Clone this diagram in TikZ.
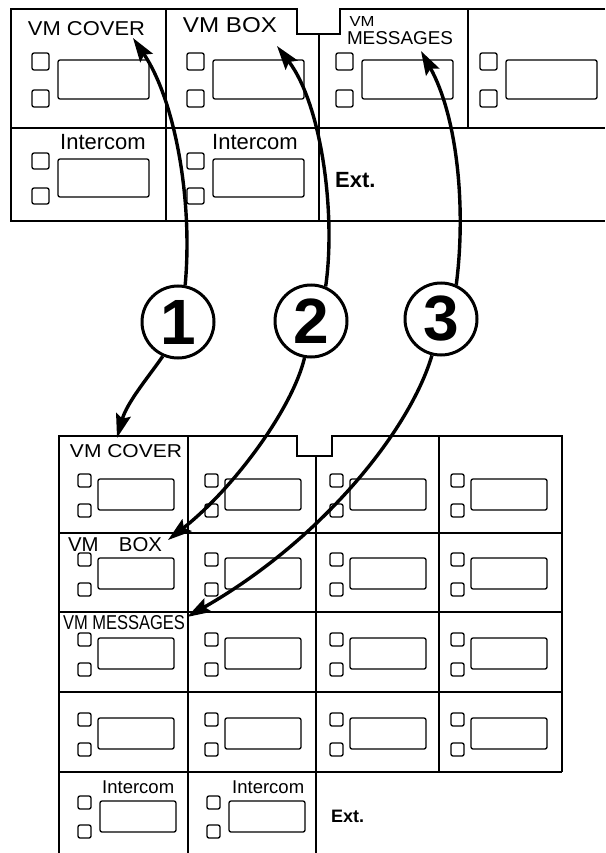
\documentclass[tikz,border=0pt]{standalone}
\usepackage{fontspec}
\setmainfont{Liberation Sans}
\usetikzlibrary{arrows.meta}
\newcommand{\hwl}[3]{\resizebox{#1pt}{#2pt}{#3}}
\begin{document}
\begin{tikzpicture}[x=1pt,y=-1pt,
  panel/.style={line width=1.2pt, line join=miter},
  keybox/.style={draw, line width=1.3pt, rounded corners=2pt},
  numcircle/.style={circle, draw, line width=3pt, minimum size=72pt, inner sep=0pt,
    font=\fontsize{64}{64}\selectfont\bfseries},
  hand/.style={inner sep=0pt},
  labeltext/.style={anchor=base west, inner sep=0pt},
  link/.style={line width=3.4pt, -{Stealth[length=24pt,width=15pt,inset=4pt]}}
]
\useasboundingbox (0,0) rectangle (605,853);

% ---------- top panel ----------
\draw[panel] (605,9) -- (340,9) -- (340,34) -- (297,34) -- (297,9) -- (11,9) -- (11,221) -- (605,221);
\draw[panel] (11,128) -- (605,128);
\draw[panel] (166,9) -- (166,221);
\draw[panel] (319,34) -- (319,221);
\draw[panel] (468,9) -- (468,128);
% row 1 keys
\foreach \xo in {32,187,336,480}{
  \draw[keybox] (\xo,53) rectangle ++(17,17);
  \draw[keybox] (\xo,90) rectangle ++(17,17);
  \draw[keybox] (\xo+26,60) rectangle (\xo+117,99);
}
% row 2 keys
\foreach \xo in {32,187}{
  \draw[keybox] (\xo,153) rectangle ++(17,16);
  \draw[keybox] (\xo,188) rectangle ++(17,16);
  \draw[keybox] (\xo+26,159) rectangle (\xo+117,197);
}
\node[labeltext, font=\fontsize{22}{22}\selectfont] (ti1) at (60,150) {Intercom};
\node[labeltext, font=\fontsize{22}{22}\selectfont] (ti2) at (212,150) {Intercom};
\node[labeltext, font=\fontsize{22}{22}\selectfont\bfseries] (text) at (335,187) {Ext.};

\node[hand] (tvmc) at (86.5,28.5) {\hwl{117}{14}{VM COVER}};
\node[hand] (tvmb) at (230,25.5) {\hwl{94}{15}{VM BOX}};
\node[hand] (tvmm1) at (362,22) {\hwl{25}{10}{VM}};
\node[hand] (tvmm2) at (400,38.5) {\hwl{106}{13}{MESSAGES}};

% ---------- bottom panel ----------
\draw[panel] (59,853) -- (59,436) -- (297,436) -- (297,456) -- (332,456) -- (332,436) -- (562,436) -- (562,772);
\foreach \yy in {533,612,692,772}{
  \draw[panel] (59,\yy) -- (562,\yy);
}
\draw[panel] (188,436) -- (188,853);
\draw[panel] (316,456) -- (316,853);
\draw[panel] (439,436) -- (439,772);
\foreach \B in {533,612,692,772}{
  \foreach \xo in {78,205,330,451}{
    \draw[keybox] (\xo,\B-59) rectangle ++(13,13);
    \draw[keybox] (\xo,\B-29) rectangle ++(13,13);
    \draw[keybox] (\xo+20,\B-54) rectangle (\xo+96,\B-23);
  }
}
\foreach \xo in {78,207}{
  \draw[keybox] (\xo,796) rectangle ++(13,13);
  \draw[keybox] (\xo,825) rectangle ++(13,13);
  \draw[keybox] (\xo+22,801) rectangle (\xo+98,832);
}
\node[labeltext, font=\fontsize{18.5}{18.5}\selectfont] (bi1) at (102,793) {Intercom};
\node[labeltext, font=\fontsize{18.5}{18.5}\selectfont] (bi2) at (232,793) {Intercom};
\node[labeltext, font=\fontsize{18}{18}\selectfont\bfseries] (bext) at (331,822) {Ext.};

\node[hand] (bvmc) at (126,451.5) {\hwl{112}{13}{VM COVER}};
\node[hand] (bvmb) at (115,545) {\hwl{94}{14}{VM\quad BOX}};
\node[hand] (bvmm) at (124,622.5) {\hwl{122}{14}{VM MESSAGES}};

% ---------- numbered circles ----------
\node[numcircle] (c1) at (178,322) {1};
\node[numcircle] (c2) at (311,321) {2};
\node[numcircle] (c3) at (441,319) {3};

% arrow tip points
\coordinate (t1) at (133,38);
\coordinate (t2) at (277,46);
\coordinate (t3) at (421,51);
\coordinate (b1) at (117,438);
\coordinate (b2) at (168,540);
\coordinate (b3) at (187,617);

% ---------- connectors ----------
\draw[link] (c1.79) .. controls (193,200) and (175,100) .. (t1);
\draw[link] (c2.67) .. controls (336,215) and (322,105) .. (t2);
\draw[link] (c3.66) .. controls (466,210) and (458,118) .. (t3);
\draw[link] (c1.246) .. controls (150,375) and (127,402) .. (b1);
\draw[link] (c2.260) .. controls (292,410) and (232,490) .. (b2);
\draw[link] (c3.256) .. controls (410,430) and (322,540) .. (b3);
\end{tikzpicture}
\end{document}
